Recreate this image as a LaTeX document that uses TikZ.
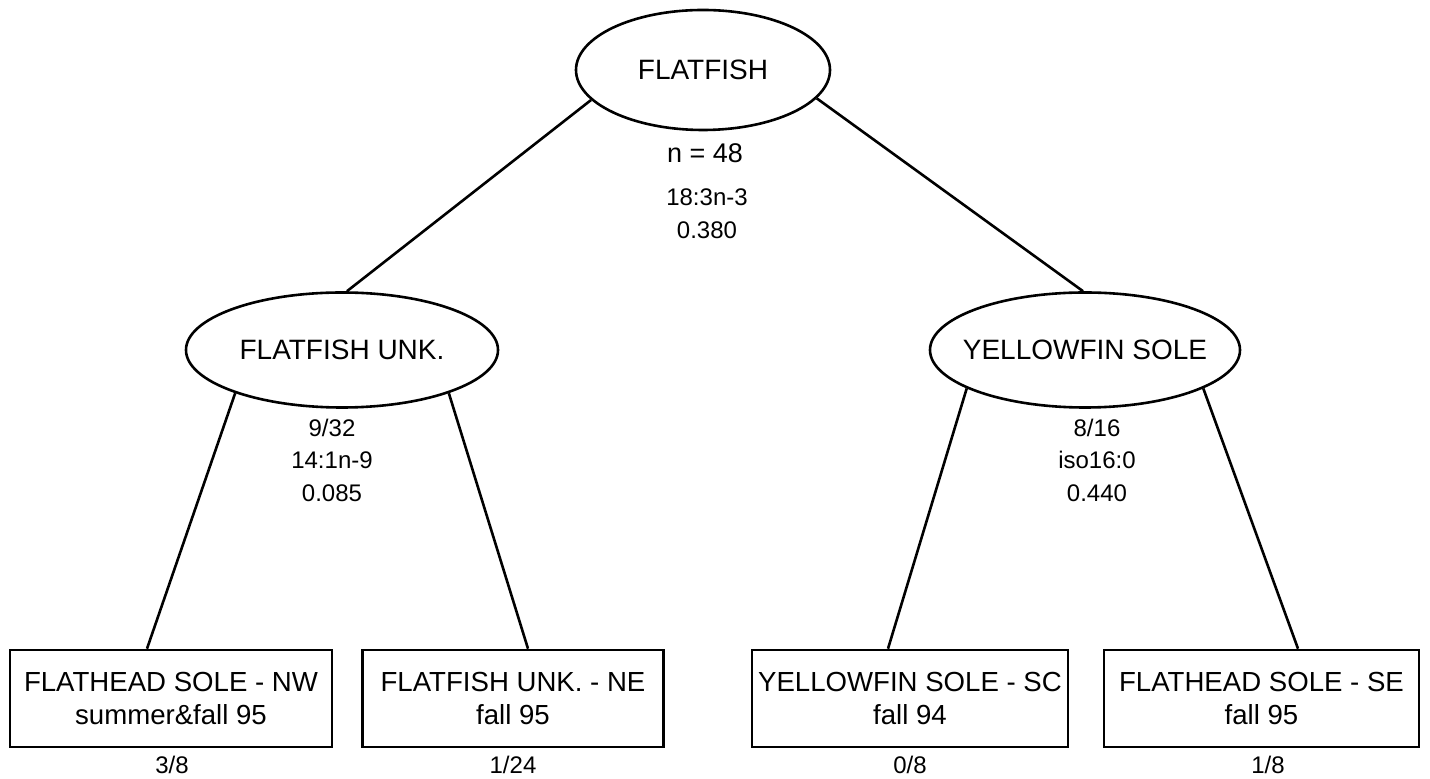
\documentclass[tikz,border=0pt]{standalone}
\usepackage{fontspec}
\setmainfont{Liberation Sans}
\usetikzlibrary{shapes.geometric}
\begin{document}
\begin{tikzpicture}[x=0.5pt,y=-0.5pt,
  line width=1.3pt,
  ell/.style={draw,ellipse,inner xsep=-15pt,inner ysep=0pt,font=\fontsize{14}{16}\selectfont},
  leaf/.style={draw,rectangle,inner sep=0pt,minimum width=#1,minimum height=48.5pt,align=center,font=\fontsize{13.8}{17}\selectfont},
  info/.style={align=center,inner sep=0pt,font=\fontsize{12}{16.25}\selectfont},
  big/.style={inner sep=0pt,font=\fontsize{13.5}{16}\selectfont},
  edge/.style={line width=1.3pt}]
\useasboundingbox (0,0) rectangle (1430,779);
% ellipses
\node[ell,minimum width=127pt,minimum height=60pt] (root) at (703,70) {FLATFISH};
\node[ell,minimum width=156pt,minimum height=57.5pt] (left) at (342,350) {FLATFISH UNK.};
\node[ell,minimum width=155pt,minimum height=57.5pt] (right) at (1085,350) {YELLOWFIN SOLE};
% info labels
\node[big] (rootn) at (705,153) {n = 48};
\node[info] (rootinfo) at (707,213.5) {18:3n-3\\0.380};
\node[info] (leftinfo) at (332,460) {9/32\\14:1n-9\\0.085};
\node[info] (rightinfo) at (1097,460) {8/16\\iso16:0\\0.440};
% leaves
\node[leaf=161pt] (b1) at (171,698.5) {FLATHEAD SOLE - NW\\summer\&fall 95};
\node[leaf=150.5pt] (b2) at (513,698.5) {FLATFISH UNK. - NE\\fall 95};
\node[leaf=158pt] (b3) at (910,698.5) {YELLOWFIN SOLE - SC\\fall 94};
\node[leaf=157.5pt] (b4) at (1261.5,698.5) {FLATHEAD SOLE - SE\\fall 95};
% leaf labels
\node[info] (l1) at (172,765) {3/8};
\node[info] (l2) at (513,765) {1/24};
\node[info] (l3) at (910,765) {0/8};
\node[info] (l4) at (1268,765) {1/8};
% connectors
\draw[edge] (root.195) -- ([xshift=2.5pt]left.north);
\draw[edge] (root.346.7) -- ([xshift=-1pt]right.north);
\draw[edge] (left.202.8) -- ([xshift=-12pt]b1.north);
\draw[edge] (left.338.8) -- ([xshift=7.5pt]b2.north);
\draw[edge] (right.198.7) -- ([xshift=-11pt]b3.north);
\draw[edge] (right.342.3) -- ([xshift=18.25pt]b4.north);
\end{tikzpicture}
\end{document}
